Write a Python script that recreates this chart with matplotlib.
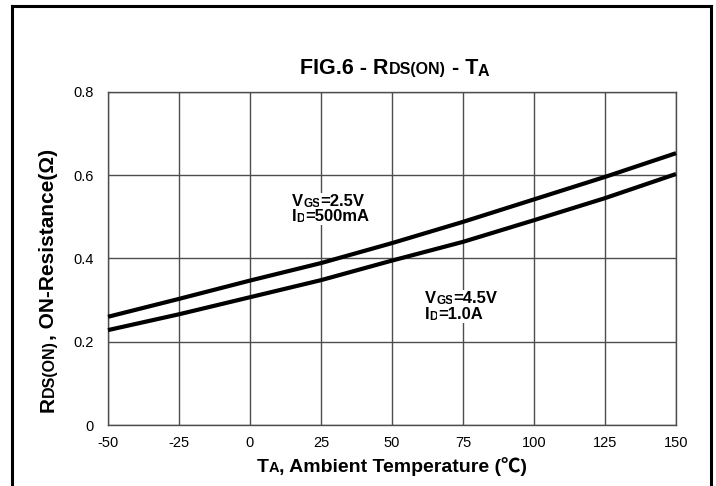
import matplotlib
matplotlib.use("Agg")
import matplotlib.pyplot as plt
from matplotlib.font_manager import FontProperties
from matplotlib.transforms import IdentityTransform
from matplotlib.lines import Line2D

# Ambient temperature (degC) and on-resistance (ohm) for the two bias conditions
temperature = [-50, -25, 0, 25, 50, 75, 100, 125, 150]
rds_vgs_2v5 = [0.260, 0.303, 0.347, 0.389, 0.437, 0.488, 0.542, 0.596, 0.653]
rds_vgs_4v5 = [0.228, 0.266, 0.307, 0.348, 0.395, 0.440, 0.492, 0.545, 0.603]

x_ticks = [-50, -25, 0, 25, 50, 75, 100, 125, 150]
y_ticks = [0, 0.2, 0.4, 0.6, 0.8]
y_tick_labels = ["0", "0.2", "0.4", "0.6", "0.8"]

W, H, DPI = 716, 486, 100
FONT = ["Liberation Sans", "Noto Sans CJK JP", "DejaVu Sans"]

fig = plt.figure(figsize=(W / DPI, H / DPI), dpi=DPI)
fig.patch.set_facecolor("white")

# plot area in pixel units (image coordinates, y downward)
left, right, top, bottom = 108, 676, 92, 425
ax = fig.add_axes([left / W, (H - bottom) / H, (right - left) / W, (bottom - top) / H])

grid_color = "#4d4d4d"
ax.set_xlim(-50, 150)
ax.set_ylim(0, 0.8)
ax.set_xticks(x_ticks)
ax.set_xticklabels([str(t) for t in x_ticks])
ax.set_yticks(y_ticks)
ax.set_yticklabels(y_tick_labels)
ax.tick_params(length=0, labelsize=10.5, colors="black")
ax.tick_params(axis="y", pad=10)
ax.tick_params(axis="x", pad=8)
for lab in ax.get_xticklabels() + ax.get_yticklabels():
    lab.set_fontfamily(FONT)
ax.grid(True, color=grid_color, linewidth=1.0)
ax.set_axisbelow(True)
for sp in ax.spines.values():
    sp.set_color(grid_color)
    sp.set_linewidth(1.0)

ax.plot(temperature, rds_vgs_2v5, color="black", linewidth=3.0,
        solid_capstyle="butt", clip_on=False, zorder=3)
ax.plot(temperature, rds_vgs_4v5, color="black", linewidth=3.0,
        solid_capstyle="butt", clip_on=False, zorder=3)

renderer = fig.canvas.get_renderer()


def text_width(s, prop):
    full = renderer.get_text_width_height_descent("|" + s + "|", prop, ismath=False)[0]
    bars = renderer.get_text_width_height_descent("||", prop, ismath=False)[0]
    return full - bars


def rich_text(x, y, runs, rotation=0, ha="center", bg=None):
    """Draw runs of (text, size, shift) along one baseline, in image pixel coords."""
    props = [FontProperties(family=FONT, weight="bold", size=size) for _, size, _ in runs]
    widths = [text_width(s, p) for (s, _, _), p in zip(runs, props)]
    total = sum(widths)
    pos = -total / 2 if ha == "center" else 0.0
    for (s, _, shift), p, w in zip(runs, props, widths):
        kw = dict(transform=IdentityTransform(), fontproperties=p, color="black",
                  ha="left", va="baseline")
        if bg:
            kw["bbox"] = dict(facecolor=bg, edgecolor="none", pad=0.5)
        if rotation == 0:
            fig.text(x + pos, (H - y) - shift, s, **kw)
        else:
            # reading bottom-to-top: successive runs move upward
            fig.text(x + shift, (H - y) + pos, s, rotation=90,
                     rotation_mode="anchor", **kw)
        pos += w


# title
rich_text(395, 74, [("FIG.6 - R", 15.5, 0), ("DS(ON)", 11.5, 0), (" - T", 15.5, 0), ("A", 11.5, 2)])

# axis titles
rich_text(392, 472, [("T", 14, 0), ("A", 10.5, 0), (", Ambient Temperature (\u2103)", 14, 0)])
rich_text(54, 280, [("R", 15, 0), ("DS(ON)", 11.5, 0), (", ON-Resistance(\u03a9)", 15, 0)],
          rotation=90)

# curve annotations
rich_text(292, 206, [("V", 12, 0), ("GS", 8.5, 1), ("=2.5V", 12, 0)], ha="left", bg="white")
rich_text(292, 221, [("I", 12, 0), ("D", 8.5, 1), ("=500mA", 12, 0)], ha="left", bg="white")
rich_text(425, 303, [("V", 12, 0), ("GS", 8.5, 1), ("=4.5V", 12, 0)], ha="left", bg="white")
rich_text(425, 319, [("I", 12, 0), ("D", 8.5, 1), ("=1.0A", 12, 0)], ha="left", bg="white")

# outer frame (open at the bottom)
frame = dict(transform=IdentityTransform(), color="black", linewidth=2.2,
              solid_capstyle="projecting")
fig.add_artist(Line2D([12, 12], [H - 6, -10], **frame))
fig.add_artist(Line2D([12, 711], [H - 6, H - 6], **frame))
fig.add_artist(Line2D([711, 711], [H - 6, -10], **frame))

fig.savefig("out.png", dpi=DPI)
